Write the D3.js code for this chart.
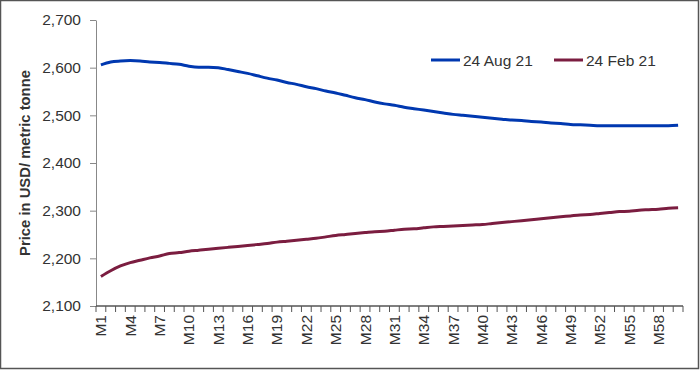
<!DOCTYPE html>
<html>
<head>
  <script type="text/javascript" src="https://cdn.jsdelivr.net/npm/d3@7/dist/d3.min.js"></script>
  <style>
    body { margin: 0; background: #fff; }
    svg { display: block; font-family: "Liberation Sans", Arial, sans-serif; }
  </style>
</head>
<body>
<svg width="700" height="370"></svg>
<script type="text/javascript">

  var months = d3.range(1, 61).map(function(i) { return "M" + i; });

  var aug21 = [
    2606, 2612, 2614, 2615, 2614, 2612, 2611, 2609, 2607, 2603,
    2601, 2601, 2600, 2596, 2592, 2588, 2583, 2578, 2574, 2569,
    2565, 2560, 2556, 2551, 2547, 2542, 2537, 2533, 2528, 2524,
    2521, 2517, 2514, 2511, 2508, 2505, 2502, 2500, 2498, 2496,
    2494, 2492, 2490, 2489, 2487, 2486, 2484, 2483, 2481, 2480,
    2479, 2478, 2478, 2478, 2478, 2478, 2478, 2478, 2478, 2479
  ];

  var feb21 = [
    2162, 2174, 2184, 2191, 2196, 2201, 2205, 2210, 2212, 2215,
    2217, 2219, 2221, 2223, 2225, 2227, 2229, 2231, 2234, 2236,
    2238, 2240, 2242, 2245, 2248, 2250, 2252, 2254, 2256, 2257,
    2259, 2261, 2262, 2264, 2266, 2267, 2268, 2269, 2270, 2271,
    2273, 2275, 2277, 2279, 2281, 2283, 2285, 2287, 2289, 2291,
    2292, 2294, 2296, 2298, 2299, 2301, 2302, 2303, 2305, 2306
  ];

  var yTicks = [2100, 2200, 2300, 2400, 2500, 2600, 2700];

  var series = [
    { name: "24 Aug 21", values: aug21, color: "#0038b0" },
    { name: "24 Feb 21", values: feb21, color: "#7b1d40" }
  ];

  // note: "top" clashes with window.top, so use plot* names
  var plotLeft = 96, plotRight = 683, plotTop = 20, plotBottom = 306;

  var svg = d3.select("svg");

  svg.append("rect")
      .attr("x", 0.5).attr("y", 0.5)
      .attr("width", 698).attr("height", 368)
      .attr("fill", "#fff")
      .attr("stroke", "#555")
      .attr("stroke-width", 1.5);

  var x = d3.scaleBand().domain(months).range([plotLeft, plotRight]);
  var y = d3.scaleLinear().domain([2100, 2700]).range([plotBottom, plotTop]);

  // y axis
  var yAxis = svg.append("g")
      .attr("transform", "translate(" + plotLeft + ",0)")
      .call(d3.axisLeft(y).tickValues(yTicks).tickSize(6).tickSizeOuter(0).tickPadding(9)
        .tickFormat(d3.format(",")));
  yAxis.selectAll("path, line").attr("stroke", "#888");
  yAxis.selectAll("text").attr("font-size", 15.5).attr("fill", "#333");

  // x axis: ticks at category boundaries, labels every third month
  var xAxis = svg.append("g").attr("transform", "translate(0," + plotBottom + ")");
  xAxis.append("line")
      .attr("x1", plotLeft).attr("x2", plotRight)
      .attr("stroke", "#555").attr("stroke-width", 1.5);
  xAxis.selectAll("line.tick").data(months.concat(["end"])).enter()
      .append("line")
      .attr("class", "tick")
      .attr("x1", function(d, i) { return plotLeft + i * x.step(); })
      .attr("x2", function(d, i) { return plotLeft + i * x.step(); })
      .attr("y1", 0).attr("y2", 6)
      .attr("stroke", "#555");
  xAxis.selectAll("text").data(months.filter(function(d, i) { return i % 3 === 0; })).enter()
      .append("text")
      .attr("transform", function(d) {
        return "translate(" + (x(d) + x.bandwidth() / 2 + 5.5) + ",9) rotate(-90)";
      })
      .attr("text-anchor", "end")
      .attr("font-size", 15.5)
      .attr("fill", "#333")
      .text(function(d) { return d; });

  // y title
  svg.append("text")
      .attr("transform", "translate(30," + ((plotTop + plotBottom) / 2) + ") rotate(-90)")
      .attr("text-anchor", "middle")
      .attr("font-size", 14.8)
      .attr("font-weight", "bold")
      .attr("fill", "#333")
      .text("Price in USD/ metric tonne");

  var line = d3.line()
      .x(function(d, i) { return x(months[i]) + x.bandwidth() / 2; })
      .y(function(d) { return y(d); })
      .curve(d3.curveMonotoneX);

  svg.selectAll("path.series").data(series).enter()
      .append("path")
      .attr("class", "series")
      .attr("fill", "none")
      .attr("stroke", function(s) { return s.color; })
      .attr("stroke-width", 3)
      .attr("stroke-linejoin", "round")
      .attr("d", function(s) { return line(s.values); });

  // legend
  var legendX = [431, 554];
  var legend = svg.selectAll("g.legend").data(series).enter()
      .append("g")
      .attr("class", "legend")
      .attr("transform", function(s, i) { return "translate(" + legendX[i] + ",60)"; });
  legend.append("line")
      .attr("x1", 0).attr("x2", 29)
      .attr("stroke", function(s) { return s.color; })
      .attr("stroke-width", 3);
  legend.append("text")
      .attr("x", 32).attr("y", 5.5)
      .attr("font-size", 15.5)
      .attr("fill", "#333")
      .text(function(s) { return s.name; });
</script>
</body>
</html>
